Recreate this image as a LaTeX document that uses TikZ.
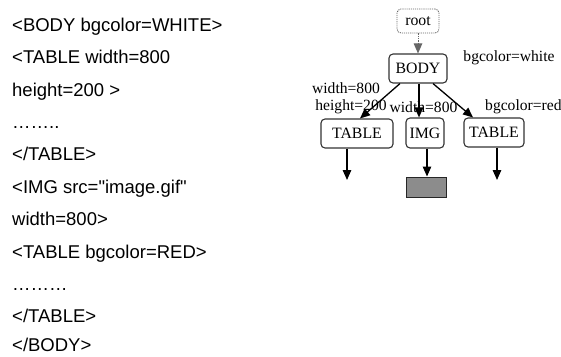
\documentclass[tikz,border=0pt]{standalone}
\usepackage{fontspec}
\setmainfont{Liberation Sans}[Ligatures=TeXOff]
\newfontfamily\serif{Liberation Serif}
\usetikzlibrary{arrows.meta}
\tikzset{
  code/.style={anchor=base west, inner sep=0pt, font=\fontsize{18.5}{22}\selectfont},
  tbox/.style={draw=black!80, line width=1.1pt, rounded corners=4pt, inner sep=0pt, font=\serif\fontsize{15.8}{18}\selectfont},
  lbl/.style={inner sep=0pt, font=\serif\fontsize{15.6}{18}\selectfont},
  edge/.style={line width=1.3pt, -{Triangle[length=10pt,width=8.5pt]}},
}
\begin{document}
\begin{tikzpicture}[x=1pt,y=-1pt]
\useasboundingbox (0,0) rectangle (561,356);
% code listing
\node[code] (l1) at (12,31.2) {<BODY bgcolor=WHITE>};
\node[code] (l2) at (12,63.6) {<TABLE width=800};
\node[code] (l3) at (12,96.0) {height=200 >};
\node[code] (l4) at (12,128.4) {……..};
\node[code] (l5) at (12,160.8) {</TABLE>};
\node[code] (l6) at (12,193.2) {<IMG src="image.gif"};
\node[code] (l7) at (12,225.6) {width=800>};
\node[code] (l8) at (12,258.0) {<TABLE bgcolor=RED>};
\node[code] (l9) at (12,290.4) {………};
\node[code] (l10) at (12,322.8) {</TABLE>};
\node[code] (l11) at (12,351.8) {</BODY>};
% tree
\node[tbox, draw=black!60, densely dotted, line width=0.9pt, minimum width=42pt, minimum height=24pt] (root) at (418,21) {root};
\node[tbox, minimum width=58pt, minimum height=29pt] (body) at (418,68.5) {BODY};
\node[tbox, minimum width=72pt, minimum height=29pt] (t1) at (357,133.5) {TABLE};
\node[tbox, minimum width=38pt, minimum height=30pt] (img) at (425,133) {IMG};
\node[tbox, minimum width=60pt, minimum height=29pt] (t2) at (494,132.5) {TABLE};
\node[draw=black!85, line width=1pt, fill=black!45, minimum width=40pt, minimum height=20pt, inner sep=0pt] (g) at (426,187) {};
\coordinate (e1) at (347,180);
\coordinate (e3) at (497,180);
% labels
\node[lbl] (lw) at (509,58) {bgcolor=white};
\node[lbl] (la) at (346,88) {width=800};
\node[lbl] (lb) at (351,107) {height=200};
\node[lbl] (lc) at (423.5,107) {width=800};
\node[lbl, anchor=west] (ld) at (485,107) {bgcolor=red};
% connectors
\draw[edge, densely dotted, draw=black!60, line width=1pt] (root.south) -- (body.north);
\draw[edge] ([xshift=-18pt]body.south) -- ([xshift=3pt]t1.north);
\draw[edge] ([xshift=1pt]body.south) -- ([xshift=-6pt]img.north);
\draw[edge] ([xshift=15pt]body.south) -- ([xshift=-21pt]t2.north);
\draw[edge] ([xshift=-10pt]t1.south) -- (e1);
\draw[edge] ([xshift=2pt]img.south) -- ([xshift=1pt]g.north);
\draw[edge] ([xshift=3pt]t2.south) -- (e3);
\end{tikzpicture}
\end{document}
